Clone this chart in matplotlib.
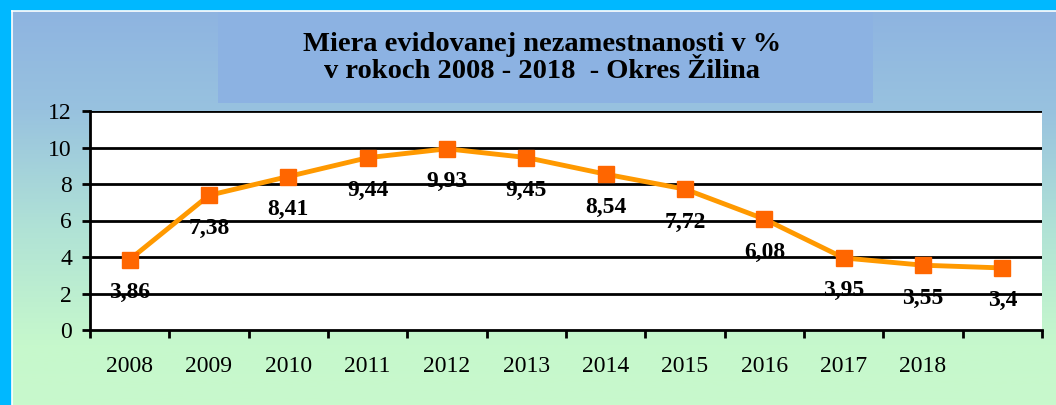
import numpy as np
import matplotlib
matplotlib.use("Agg")
import matplotlib.pyplot as plt
from matplotlib.colors import LinearSegmentedColormap
from matplotlib.patches import Rectangle

categories = ["2008", "2009", "2010", "2011", "2012", "2013", "2014", "2015",
              "2016", "2017", "2018", ""]
values = [3.86, 7.38, 8.41, 9.44, 9.93, 9.45, 8.54, 7.72, 6.08, 3.95, 3.55, 3.4]
value_labels = ["3,86", "7,38", "8,41", "9,44", "9,93", "9,45", "8,54", "7,72",
                "6,08", "3,95", "3,55", "3,4"]
title_text = "Miera evidovanej nezamestnanosti v %\nv rokoch 2008 - 2018  - Okres Žilina"

plt.rcParams['font.family'] = ['Liberation Serif', 'DejaVu Serif']

W, H = 1056, 405
fig = plt.figure(figsize=(W / 100, H / 100), dpi=100)
fig.patch.set_facecolor("#00B8FF")

# background panel with gradient
bx0, by_top = 12, 11
bg = fig.add_axes([bx0 / W, 0, (W - bx0) / W, (H - by_top) / H])
bg.set_axis_off()
cmap = LinearSegmentedColormap.from_list(
    "bg", [(0.0, "#8EB4E1"), (0.25, "#98C2DF"), (0.55, "#B0E2D6"), (0.85, "#C6F8CC"), (1.0, "#C8F9CC")])
grad = np.linspace(0, 1, 400).reshape(-1, 1)
bg.imshow(grad, aspect="auto", cmap=cmap, extent=[0, 1, 0, 1], origin="upper")
bg.set_xlim(0, 1)
bg.set_ylim(0, 1)
bg.plot([0, 0], [0, 1], color="white", lw=1.2, transform=bg.transAxes, clip_on=False)
bg.plot([0, 1], [1, 1], color="white", lw=1.2, transform=bg.transAxes, clip_on=False)

# title box
tx0, tx1, ty0, ty1 = 218, 873, 12, 103
fig.patches.append(Rectangle((tx0 / W, 1 - ty1 / H), (tx1 - tx0) / W, (ty1 - ty0) / H,
                             transform=fig.transFigure, facecolor="#8CB2E2",
                             edgecolor="none", zorder=1))
fig.text(542 / W, 1 - 58 / H, title_text, ha="center", va="center",
         fontsize=20.5, fontweight="bold", linespacing=1.15, zorder=3)

# plot area
L, R, T, B = 90, 1042, 111, 330
ax = fig.add_axes([L / W, (H - B) / H, (R - L) / W, (B - T) / H])
ax.set_facecolor("white")
x = np.arange(len(categories))
ax.set_xlim(-0.5, len(categories) - 0.5)
ax.set_ylim(0, 12)
ax.set_yticks(np.arange(0, 13, 2))
for yv in np.arange(2, 13, 2):
    ax.axhline(yv, color="black", lw=2, zorder=1)

ax.plot(x, values, color="#FF9900", lw=3.5, zorder=3)
ax.plot(x, values, ls="none", marker="s", markersize=11, color="#FF6600", zorder=4)

for xi, v, lab in zip(x, values, value_labels):
    ax.annotate(lab, (xi, v), xytext=(0, -33), textcoords="offset pixels",
                ha="center", va="center", fontsize=17, fontweight="bold", zorder=5)

ax.set_xticks(np.arange(-0.5, len(categories), 1.0))
ax.set_xticklabels([])
ax.set_xticks(x, minor=True)
ax.set_xticklabels(categories, minor=True)
ax.tick_params(axis="x", which="major", length=6, width=2, direction="out", color="black")
ax.tick_params(axis="x", which="minor", length=0, pad=19, labelsize=17)
ax.tick_params(axis="y", length=6, width=2, direction="out", labelsize=17, pad=7)

for s in ["top", "right"]:
    ax.spines[s].set_visible(False)
ax.spines["left"].set_linewidth(2)
ax.spines["bottom"].set_linewidth(2)

fig.savefig("out.png", dpi=100, facecolor=fig.get_facecolor())
